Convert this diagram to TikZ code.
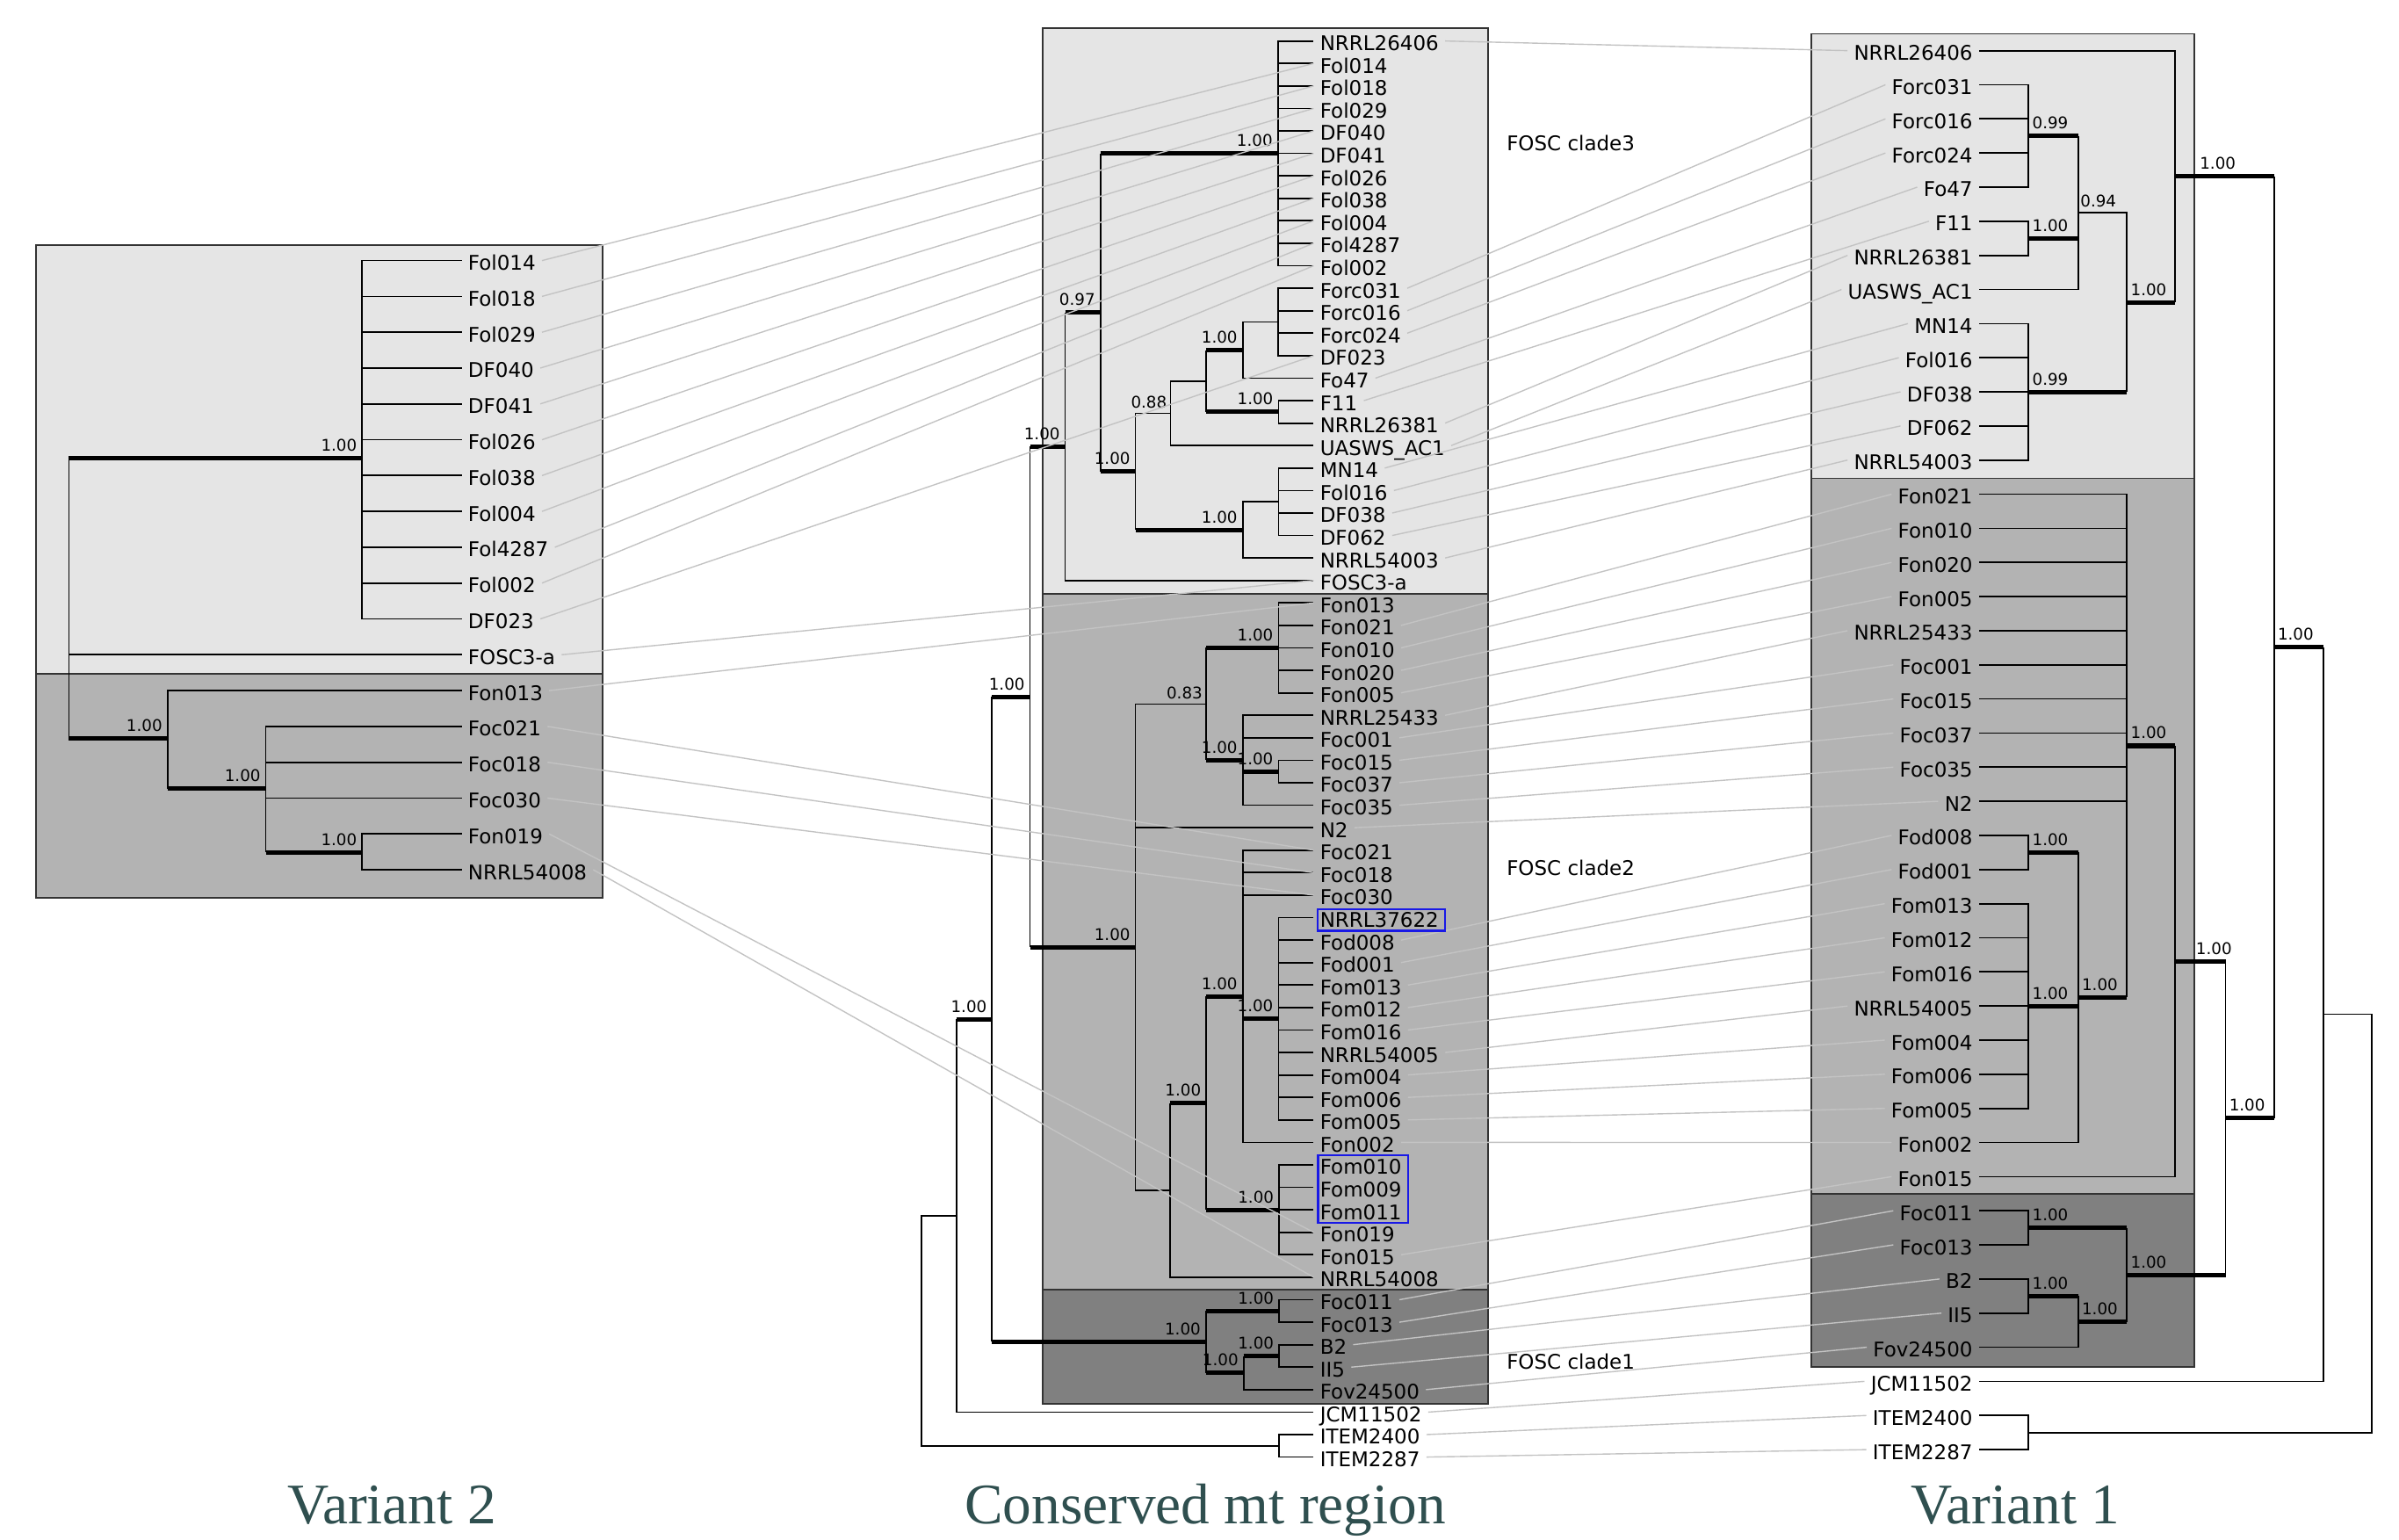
\documentclass[tikz,border=0pt]{standalone}
\usepackage{fontspec}
\setmainfont{DejaVu Sans}
\newfontfamily\titlefont{Liberation Serif}
\definecolor{cladethree}{RGB}{229,229,229}
\definecolor{cladetwo}{RGB}{179,179,179}
\definecolor{cladeone}{RGB}{128,128,128}
\definecolor{linkgray}{RGB}{195,195,195}
\definecolor{titleslate}{RGB}{47,79,79}
\definecolor{markblue}{RGB}{25,25,230}
\usepackage{tikz}
\catcode`\_=12
% row positions of the three trees
\newcommand{\Lrow}[1]{(170.3+(#1-1)*23.42)}
\newcommand{\Mrow}[1]{(26.8+(#1-1)*14.69)}
\newcommand{\Rrow}[1]{(33.1+(#1-1)*22.3)}
% thick supported branch: parent, child, support value
\newcommand{\thkL}[3]{\draw[br] (#1) -- (#1 |- #2);
  \draw[thk] (#1 |- #2) -- (#2) node[supp,anchor=south east,xshift=-2pt,yshift=3pt] (#2-s) {#3};}
\newcommand{\thkR}[4][1]{\draw[br] (#2) -- (#2 |- #3);
  \draw[thk] (#2 |- #3) -- (#3) node[supp,anchor=south west,xshift=#1pt,yshift=3pt] (#3-s) {#4};}
\newcommand{\leftleaves}{Fol014,Fol018,Fol029,DF040,DF041,Fol026,Fol038,Fol004,Fol4287,Fol002,DF023,FOSC3-a,Fon013,Foc021,Foc018,Foc030,Fon019,NRRL54008}
\newcommand{\midleaves}{NRRL26406,Fol014,Fol018,Fol029,DF040,DF041,Fol026,Fol038,Fol004,Fol4287,Fol002,Forc031,Forc016,Forc024,DF023,Fo47,F11,NRRL26381,UASWS_AC1,MN14,Fol016,DF038,DF062,NRRL54003,FOSC3-a,Fon013,Fon021,Fon010,Fon020,Fon005,NRRL25433,Foc001,Foc015,Foc037,Foc035,N2,Foc021,Foc018,Foc030,NRRL37622,Fod008,Fod001,Fom013,Fom012,Fom016,NRRL54005,Fom004,Fom006,Fom005,Fon002,Fom010,Fom009,Fom011,Fon019,Fon015,NRRL54008,Foc011,Foc013,B2,II5,Fov24500,JCM11502,ITEM2400,ITEM2287}
\newcommand{\rightleaves}{NRRL26406,Forc031,Forc016,Forc024,Fo47,F11,NRRL26381,UASWS_AC1,MN14,Fol016,DF038,DF062,NRRL54003,Fon021,Fon010,Fon020,Fon005,NRRL25433,Foc001,Foc015,Foc037,Foc035,N2,Fod008,Fod001,Fom013,Fom012,Fom016,NRRL54005,Fom004,Fom006,Fom005,Fon002,Fon015,Foc011,Foc013,B2,II5,Fov24500,JCM11502,ITEM2400,ITEM2287}

\begin{document}
\begin{tikzpicture}[x=1pt,y=-1pt,
    br/.style={line width=1pt},
    thk/.style={line width=2.9pt},
    leaf/.style={inner xsep=4pt,inner ysep=0pt,text height=12.6pt,text depth=0pt,
                 font=\fontsize{13.2}{15}\selectfont},
    supp/.style={inner sep=0pt,font=\fontsize{10.5}{12}\selectfont},
    cladebox/.style={draw=black!80,line width=1.1pt},
    link/.style={linkgray,line width=0.8pt},
    bluebox/.style={draw=markblue,line width=1.4pt},
    title/.style={anchor=base,text=titleslate,font=\titlefont\fontsize{37.5}{40}\selectfont}]
  \useasboundingbox (0,0) rectangle (1568,1006);

  % Clade boxes
  \draw[cladebox,fill=cladethree] (23.4,160.4) rectangle (393.7,440.2);
  \draw[cladebox,fill=cladetwo]   (23.4,440.2) rectangle (393.7,586.6);
  \draw[cladebox,fill=cladethree] (681.3,18.6) rectangle (972.8,388.2);
  \draw[cladebox,fill=cladetwo]   (681.3,388.2) rectangle (972.8,843.1);
  \draw[cladebox,fill=cladeone]   (681.3,843.1) rectangle (972.8,917.7);
  \draw[cladebox,fill=cladethree] (1184,22.1) rectangle (1434.4,312.6);
  \draw[cladebox,fill=cladetwo]   (1184,312.6) rectangle (1434.4,780);
  \draw[cladebox,fill=cladeone]   (1184,780) rectangle (1434.4,893.6);

  % Leaf labels
  \foreach \t [count=\i] in \leftleaves
    \node[leaf,anchor=west] (L-\t) at (301.8,{\Lrow{\i}}) {\t};
  \foreach \t [count=\i] in \midleaves
    \node[leaf,anchor=west] (M-\t) at (858.6,{\Mrow{\i}}) {\t};
  \foreach \t [count=\i] in \rightleaves
    \node[leaf,anchor=east] (R-\t) at (1293.5,{\Rrow{\i}}) {\t};

  % Clade names
  \node[leaf,anchor=west] (clade3) at (980.6,92.3) {FOSC clade3};
  \node[leaf,anchor=west] (clade2) at (980.6,565.9) {FOSC clade2};
  \node[leaf,anchor=west] (clade1) at (980.6,888.7) {FOSC clade1};

  % Variant 2 tree
  \coordinate (l-root)  at (45,391);
  \coordinate (l-fol)   at (236.7,299.2);
  \coordinate (l-fon)   at (109.5,482.7);
  \coordinate (l-foc)   at (173.7,515.4);
  \coordinate (l-fon19) at (236.7,557);
  \foreach \t in {Fol014,Fol018,Fol029,DF040,DF041,Fol026,Fol038,Fol004,Fol4287,Fol002,DF023}
    \draw[br] (l-fol) |- (L-\t.west);
  \thkL{l-root}{l-fol}{1.00}
  \draw[br] (l-root) |- (L-FOSC3-a.west);
  \thkL{l-root}{l-fon}{1.00}
  \draw[br] (l-fon) |- (L-Fon013.west);
  \thkL{l-fon}{l-foc}{1.00}
  \foreach \t in {Foc021,Foc018,Foc030} \draw[br] (l-foc) |- (L-\t.west);
  \thkL{l-foc}{l-fon19}{1.00}
  \foreach \t in {Fon019,NRRL54008} \draw[br] (l-fon19) |- (L-\t.west);

  % Conserved mt region tree
  \coordinate (m-fol)     at (835.2,100.25);
  \coordinate (m-forc)    at (835.2,210.4);
  \coordinate (m-forcfo)  at (812.2,228.8);
  \coordinate (m-f11)     at (835.6,269.2);
  \coordinate (m-forcf11) at (788.4,249.0);
  \coordinate (m-forcuas) at (765.1,270.1);
  \coordinate (m-mn14)    at (835.6,327.9);
  \coordinate (m-mn14n)   at (812.2,346.3);
  \coordinate (m-sub)     at (742.1,308.2);
  \coordinate (m-c3in)    at (719.2,204.2);
  \coordinate (m-c3)      at (696.2,291.8);
  \coordinate (m-fon)     at (835.6,423.43);
  \coordinate (m-foc15)   at (835.6,504.2);
  \coordinate (m-foc)     at (812.2,496.9);
  \coordinate (m-fonfoc)  at (788.4,460.2);
  \coordinate (m-fod)     at (835.6,665.8);
  \coordinate (m-focfod)  at (812.2,651.1);
  \coordinate (m-fom10)   at (836.0,790.68);
  \coordinate (m-fodfom)  at (788.4,720.9);
  \coordinate (m-fodn)    at (764.7,777.8);
  \coordinate (m-c2)      at (742.1,619.0);
  \coordinate (m-fosc)    at (673.2,455.4);
  \coordinate (m-foc11)   at (836.0,856.8);
  \coordinate (m-b2)      at (836.0,886.2);
  \coordinate (m-b2fov)   at (812.8,897.2);
  \coordinate (m-c1)      at (788.2,877.0);
  \coordinate (m-c12)     at (648.4,666.2);
  \coordinate (m-jcm)     at (625.3,794.5);
  \coordinate (m-item)    at (836.0,944.9);
  \coordinate (m-root)    at (602.1,869.7);
  % clade 3
  \foreach \t in {NRRL26406,Fol014,Fol018,Fol029,DF040,DF041,Fol026,Fol038,Fol004,Fol4287,Fol002}
    \draw[br] (m-fol) |- (M-\t.west);
  \foreach \t in {Forc031,Forc016,Forc024,DF023} \draw[br] (m-forc) |- (M-\t.west);
  \draw[br] (m-forcfo) |- (m-forc);
  \draw[br] (m-forcfo) |- (M-Fo47.west);
  \foreach \t in {F11,NRRL26381} \draw[br] (m-f11) |- (M-\t.west);
  \thkL{m-forcf11}{m-forcfo}{1.00}
  \thkL{m-forcf11}{m-f11}{1.00}
  \draw[br] (m-forcuas) |- (m-forcf11);
  \draw[br] (m-forcuas) |- (M-UASWS_AC1.west);
  \draw[br] (m-sub) |- (m-forcuas)
    node[supp,anchor=south east,xshift=-2pt,yshift=3pt] (m-forcuas-s) {0.88};
  \foreach \t in {MN14,Fol016,DF038,DF062} \draw[br] (m-mn14) |- (M-\t.west);
  \draw[br] (m-mn14n) |- (m-mn14);
  \draw[br] (m-mn14n) |- (M-NRRL54003.west);
  \thkL{m-sub}{m-mn14n}{1.00}
  \thkL{m-c3in}{m-fol}{1.00}
  \thkL{m-c3in}{m-sub}{1.00}
  \thkL{m-c3}{m-c3in}{0.97}
  \draw[br] (m-c3) |- (M-FOSC3-a.west);
  \thkL{m-fosc}{m-c3}{1.00}
  % clade 2
  \foreach \t in {Fon013,Fon021,Fon010,Fon020,Fon005} \draw[br] (m-fon) |- (M-\t.west);
  \foreach \t in {Foc015,Foc037} \draw[br] (m-foc15) |- (M-\t.west);
  \foreach \t in {NRRL25433,Foc001,Foc035} \draw[br] (m-foc) |- (M-\t.west);
  \thkL{m-foc}{m-foc15}{1.00}
  \thkL{m-fonfoc}{m-fon}{1.00}
  \thkL{m-fonfoc}{m-foc}{1.00}
  \draw[br] (m-c2) |- (m-fonfoc)
    node[supp,anchor=south east,xshift=-2pt,yshift=3pt] (m-fonfoc-s) {0.83};
  \draw[br] (m-c2) |- (M-N2.west);
  \foreach \t in {NRRL37622,Fod008,Fod001,Fom013,Fom012,Fom016,NRRL54005,Fom004,Fom006,Fom005}
    \draw[br] (m-fod) |- (M-\t.west);
  \foreach \t in {Foc021,Foc018,Foc030,Fon002} \draw[br] (m-focfod) |- (M-\t.west);
  \thkL{m-focfod}{m-fod}{1.00}
  \foreach \t in {Fom010,Fom009,Fom011,Fon019,Fon015} \draw[br] (m-fom10) |- (M-\t.west);
  \thkL{m-fodfom}{m-focfod}{1.00}
  \thkL{m-fodfom}{m-fom10}{1.00}
  \thkL{m-fodn}{m-fodfom}{1.00}
  \draw[br] (m-fodn) |- (M-NRRL54008.west);
  \draw[br] (m-c2) |- (m-fodn);
  \thkL{m-fosc}{m-c2}{1.00}
  \thkL{m-c12}{m-fosc}{1.00}
  % clade 1 and outgroups
  \foreach \t in {Foc011,Foc013} \draw[br] (m-foc11) |- (M-\t.west);
  \foreach \t in {B2,II5} \draw[br] (m-b2) |- (M-\t.west);
  \thkL{m-b2fov}{m-b2}{1.00}
  \draw[br] (m-b2fov) |- (M-Fov24500.west);
  \thkL{m-c1}{m-foc11}{1.00}
  \thkL{m-c1}{m-b2fov}{1.00}
  \thkL{m-c12}{m-c1}{1.00}
  \thkL{m-jcm}{m-c12}{1.00}
  \draw[br] (m-jcm) |- (M-JCM11502.west);
  \foreach \t in {ITEM2400,ITEM2287} \draw[br] (m-item) |- (M-\t.west);
  \draw[br] (m-root) |- (m-jcm);
  \draw[br] (m-root) |- (m-item);

  % Variant 1 tree
  \coordinate (r-forc)    at (1325.9,88.85);
  \coordinate (r-f11)     at (1325.9,155.75);
  \coordinate (r-forcuas) at (1358.3,139.0);
  \coordinate (r-mn14)    at (1325.9,256.1);
  \coordinate (r-sub)     at (1390.2,197.6);
  \coordinate (r-c3)      at (1421.4,115.35);
  \coordinate (r-fon)     at (1390.2,487.45);
  \coordinate (r-fod)     at (1325.9,557.15);
  \coordinate (r-fom)     at (1325.9,657.5);
  \coordinate (r-fodfom)  at (1358.3,651.9);
  \coordinate (r-c2)      at (1421.4,628.2);
  \coordinate (r-foc11)   at (1325.9,802.45);
  \coordinate (r-b2)      at (1325.9,847.05);
  \coordinate (r-b2fov)   at (1358.3,863.8);
  \coordinate (r-c1)      at (1390.2,833.1);
  \coordinate (r-c12)     at (1454.6,730.65);
  \coordinate (r-fosc)    at (1486.3,423.0);
  \coordinate (r-jcm)     at (1518.7,662.9);
  \coordinate (r-item)    at (1325.9,936.25);
  \coordinate (r-root)    at (1550.3,799.6);
  \foreach \t in {Forc031,Forc016,Forc024,Fo47} \draw[br] (r-forc) |- (R-\t.east);
  \foreach \t in {F11,NRRL26381} \draw[br] (r-f11) |- (R-\t.east);
  \thkR{r-forcuas}{r-forc}{0.99}
  \thkR{r-forcuas}{r-f11}{1.00}
  \draw[br] (r-forcuas) |- (R-UASWS_AC1.east);
  \draw[br] (r-sub) |- (r-forcuas)
    node[supp,anchor=south west,xshift=1pt,yshift=3pt] (r-forcuas-s) {0.94};
  \foreach \t in {MN14,Fol016,DF038,DF062,NRRL54003} \draw[br] (r-mn14) |- (R-\t.east);
  \thkR{r-sub}{r-mn14}{0.99}
  \thkR{r-c3}{r-sub}{1.00}
  \draw[br] (r-c3) |- (R-NRRL26406.east);
  \thkR[15]{r-fosc}{r-c3}{1.00}
  \foreach \t in {Fon021,Fon010,Fon020,Fon005,NRRL25433,Foc001,Foc015,Foc037,Foc035,N2}
    \draw[br] (r-fon) |- (R-\t.east);
  \foreach \t in {Fod008,Fod001} \draw[br] (r-fod) |- (R-\t.east);
  \foreach \t in {Fom013,Fom012,Fom016,NRRL54005,Fom004,Fom006,Fom005}
    \draw[br] (r-fom) |- (R-\t.east);
  \thkR{r-fodfom}{r-fod}{1.00}
  \thkR{r-fodfom}{r-fom}{1.00}
  \draw[br] (r-fodfom) |- (R-Fon002.east);
  \thkR{r-fon}{r-fodfom}{1.00}
  \thkR{r-c2}{r-fon}{1.00}
  \draw[br] (r-c2) |- (R-Fon015.east);
  \thkR[12.5]{r-c12}{r-c2}{1.00}
  \foreach \t in {Foc011,Foc013} \draw[br] (r-foc11) |- (R-\t.east);
  \foreach \t in {B2,II5} \draw[br] (r-b2) |- (R-\t.east);
  \thkR{r-b2fov}{r-b2}{1.00}
  \draw[br] (r-b2fov) |- (R-Fov24500.east);
  \thkR{r-c1}{r-foc11}{1.00}
  \thkR{r-c1}{r-b2fov}{1.00}
  \thkR{r-c12}{r-c1}{1.00}
  \thkR{r-fosc}{r-c12}{1.00}
  \thkR{r-jcm}{r-fosc}{1.00}
  \draw[br] (r-jcm) |- (R-JCM11502.east);
  \foreach \t in {ITEM2400,ITEM2287} \draw[br] (r-item) |- (R-\t.east);
  \draw[br] (r-root) |- (r-jcm);
  \draw[br] (r-root) |- (r-item);

  % Links between the trees
  \foreach \t in \leftleaves \draw[link] (L-\t.east) -- (M-\t.west);
  \foreach \t in \rightleaves \draw[link] (M-\t.east) -- (R-\t.west);

  % Marked strains
  \draw[bluebox] (861.1,594.2) rectangle (944.6,608.2);
  \draw[bluebox] (861.5,755.0) rectangle (920.3,799.1);

  % Titles
  \node[title] (v2-title) at (256,996) {Variant 2};
  \node[title] (mt-title) at (787.8,996) {Conserved mt region};
  \node[title] (v1-title) at (1317.5,996) {Variant 1};
\end{tikzpicture}
\end{document}
